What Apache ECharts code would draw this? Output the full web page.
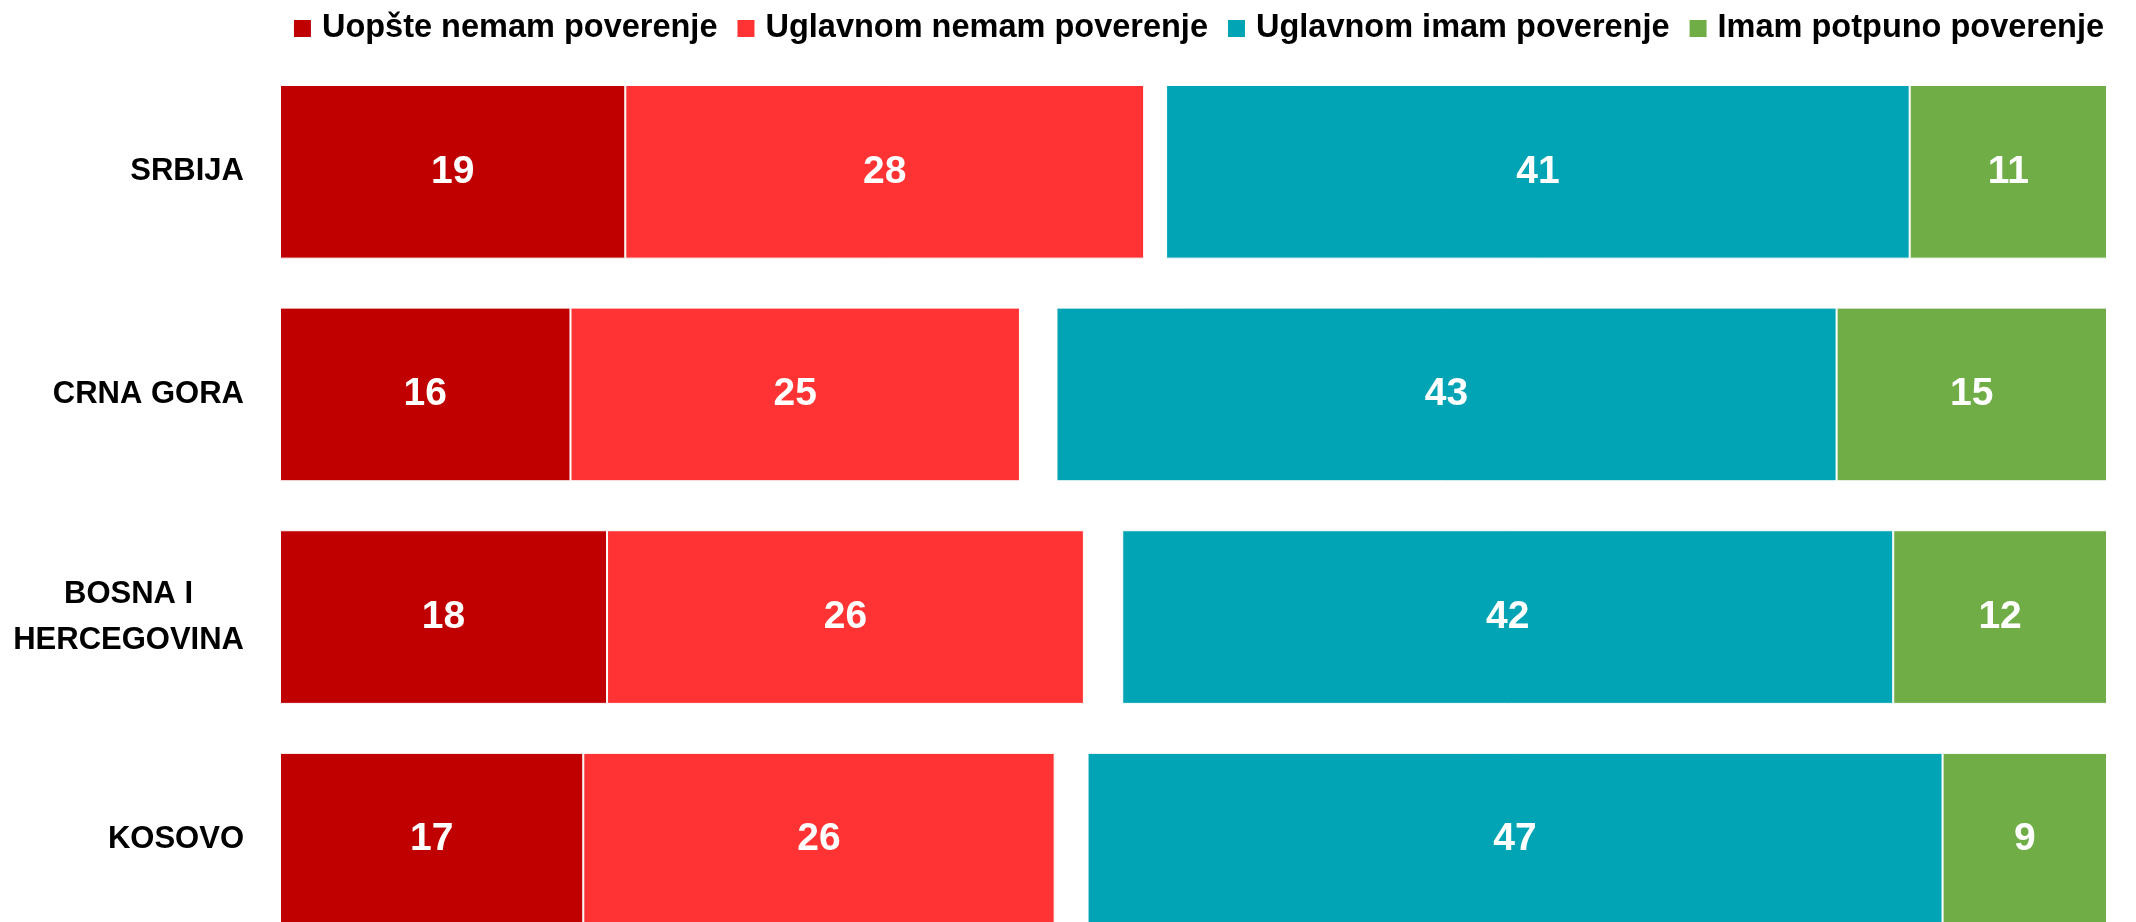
<!DOCTYPE html>
<html><head><meta charset="utf-8">
<script src="https://cdn.jsdelivr.net/npm/echarts@6/dist/echarts.min.js"></script>
<style>html,body{margin:0;padding:0;background:#fff}#c{width:2136px;height:922px}</style>
</head><body><div id="c"></div>
<script>
const categories = ['SRBIJA', 'CRNA GORA', 'BOSNA I\nHERCEGOVINA', 'KOSOVO'];
const seriesNames = ['Uopšte nemam poverenje', 'Uglavnom nemam poverenje', 'Uglavnom imam poverenje', 'Imam potpuno poverenje'];
// values (labels show them rounded)
const uopsteNemam   = [18.9, 15.9, 17.9, 16.6];
const uglavnomNemam = [28.4, 24.6, 26.1, 25.8];
const spacer        = [1.2, 2.0, 2.1, 1.8];
const uglavnomImam  = [40.7, 42.7, 42.2, 46.8];
const imamPotpuno   = [10.8, 14.8, 11.7, 9.0];
const colors = ['#C00000', '#FF3333', '#00A4B4', '#70AD47'];

const FONT = 'Liberation Sans';
const chart = echarts.init(document.getElementById('c'), null, {renderer: 'canvas'});

function barSeries(name, data, color) {
  return {
    name: name, type: 'bar', stack: 'all', data: data,
    barCategoryGap: '22%',
    itemStyle: {color: color, borderColor: '#ffffff', borderWidth: 1},
    label: {
      show: true, position: 'inside', color: '#ffffff',
      fontFamily: FONT, fontWeight: 'bold', fontSize: 39,
      formatter: p => String(Math.round(p.value))
    },
    emphasis: {disabled: true}
  };
}

const option = {
  animation: false,
  backgroundColor: '#ffffff',
  legend: {
    data: seriesNames,
    right: 27, top: 7,
    icon: 'rect', itemWidth: 19, itemHeight: 19, itemGap: 18,
    textStyle: {fontFamily: FONT, fontWeight: 'bold', fontSize: 32.5, color: '#000', padding: [0, 0, 0, 5]}
  },
  grid: {left: 280, right: 29, top: 60.5, height: 890.5, containLabel: false, outerBoundsMode: 'none'},
  xAxis: {type: 'value', min: 0, max: 100, show: false},
  yAxis: {
    type: 'category', inverse: true, data: categories,
    axisLine: {show: false}, axisTick: {show: false}, splitLine: {show: false},
    axisLabel: {
      margin: 36, color: '#000', fontFamily: FONT, fontWeight: 'bold', fontSize: 31, lineHeight: 46,
      formatter: v => v.indexOf('\n') >= 0 ? v.split('\n').map(s => '{c|' + s + '}').join('\n') : v,
      rich: {c: {align: 'center', color: '#000', fontFamily: FONT, fontWeight: 'bold', fontSize: 31, lineHeight: 46}}
    }
  },
  series: [
    barSeries(seriesNames[0], uopsteNemam, colors[0]),
    barSeries(seriesNames[1], uglavnomNemam, colors[1]),
    {
      name: 'spacer', type: 'bar', stack: 'all', data: spacer, silent: true,
      itemStyle: {color: 'rgba(0,0,0,0)', borderWidth: 0},
      label: {show: false}, emphasis: {disabled: true}
    },
    barSeries(seriesNames[2], uglavnomImam, colors[2]),
    barSeries(seriesNames[3], imamPotpuno, colors[3])
  ]
};
chart.setOption(option);
</script>
</body></html>
